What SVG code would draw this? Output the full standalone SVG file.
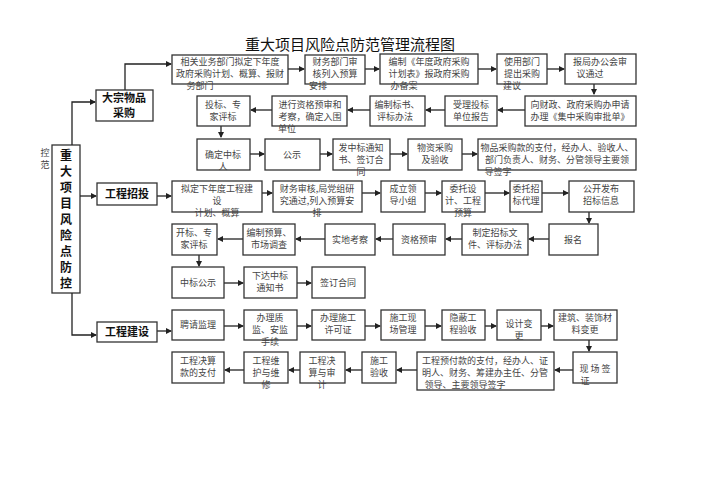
<svg xmlns="http://www.w3.org/2000/svg" width="707" height="500" viewBox="0 0 707 500">
<style>
.b{fill:#fff;stroke:#333;stroke-width:1.3}
.t{font-family:"Noto Sans CJK SC",sans-serif;font-size:9px;fill:#444;text-anchor:middle}
.h{font-family:"Noto Sans CJK SC",sans-serif;font-size:11px;font-weight:bold;fill:#111;text-anchor:middle}
.v{font-family:"Noto Sans CJK SC",sans-serif;font-size:12px;font-weight:bold;fill:#111;text-anchor:middle}
.c line,.c polyline{stroke:#222;stroke-width:1.3;fill:none;marker-end:url(#a)}
</style>
<defs><marker id="a" markerWidth="6" markerHeight="6" refX="5" refY="3" orient="auto" markerUnits="userSpaceOnUse"><path d="M0,0L6,3L0,6z" fill="#222"/></marker></defs>
<rect width="707" height="500" fill="#fff"/>
<text x="350" y="50" font-family="Noto Sans CJK SC,sans-serif" font-size="15" text-anchor="middle" fill="#111">重大项目风险点防范管理流程图</text>
<g id="main"><rect class="b" x="52" y="145" width="28" height="148"/>
<text class="v" x="66" y="160">重</text><text class="v" x="66" y="176">大</text><text class="v" x="66" y="192">项</text><text class="v" x="66" y="208">目</text><text class="v" x="66" y="224">风</text><text class="v" x="66" y="240">险</text><text class="v" x="66" y="256">点</text><text class="v" x="66" y="272">防</text><text class="v" x="66" y="288">控</text>
<text class="t" x="45" y="156" font-size="11">控</text><text class="t" x="45" y="168" font-size="11">范</text></g>
<g class="c" id="connectors">
<polyline points="72,145 72,102 95,102"/><polyline points="125,90 125,64 171,64"/>
<line x1="80" y1="196" x2="96" y2="196"/><polyline points="72,293 72,335 96,335"/>
<line x1="157" y1="196" x2="171" y2="196"/><line x1="157" y1="331" x2="171" y2="331"/>
<line x1="288" y1="69" x2="304" y2="69"/><line x1="365" y1="69" x2="379" y2="69"/><line x1="478" y1="69" x2="496" y2="69"/><line x1="547" y1="69" x2="564" y2="69"/>
<line x1="594" y1="84" x2="594" y2="94"/>
<line x1="525" y1="110" x2="498" y2="110"/><line x1="445" y1="110" x2="426" y2="110"/><line x1="370" y1="110" x2="348" y2="110"/><line x1="272" y1="110" x2="251" y2="110"/>
<line x1="221" y1="126" x2="221" y2="137"/>
<line x1="250" y1="154" x2="264" y2="154"/><line x1="320" y1="154" x2="332" y2="154"/><line x1="390" y1="154" x2="407" y2="154"/><line x1="462" y1="154" x2="477" y2="154"/>
<line x1="262" y1="193" x2="272" y2="193"/><line x1="362" y1="193" x2="380" y2="193"/><line x1="425" y1="193" x2="441" y2="193"/><line x1="485" y1="193" x2="509" y2="193"/><line x1="542" y1="193" x2="568" y2="193"/>
<line x1="589" y1="212" x2="589" y2="223"/>
<line x1="549" y1="239" x2="529" y2="239"/><line x1="462" y1="239" x2="446" y2="239"/><line x1="393" y1="239" x2="376" y2="239"/><line x1="325" y1="239" x2="296" y2="239"/><line x1="243" y1="239" x2="218" y2="239"/>
<line x1="199" y1="255" x2="199" y2="266"/>
<line x1="224" y1="283" x2="243" y2="283"/><line x1="297" y1="283" x2="311" y2="283"/>
<line x1="224" y1="326" x2="243" y2="326"/><line x1="297" y1="326" x2="311" y2="326"/><line x1="365" y1="326" x2="380" y2="326"/><line x1="425" y1="326" x2="441" y2="326"/><line x1="485" y1="326" x2="496" y2="326"/><line x1="541" y1="326" x2="553" y2="326"/>
<line x1="589" y1="340" x2="589" y2="351"/>
<line x1="573" y1="370" x2="555" y2="370"/><line x1="417" y1="370" x2="397" y2="370"/><line x1="362" y1="370" x2="346" y2="370"/><line x1="300" y1="370" x2="289" y2="370"/><line x1="244" y1="370" x2="225" y2="370"/>
</g>
<g id="n_dz"><rect class="b" x="96" y="90" width="57" height="31"/><text class="h" x="124" y="102" font-size="10">大宗物品</text><text class="h" x="124" y="117" font-size="10">采购</text></g>
<g id="n_zb"><rect class="b" x="97" y="183" width="60" height="22"/><text class="h" x="127" y="198">工程招投</text></g>
<g id="n_js"><rect class="b" x="97" y="322" width="60" height="20"/><text class="h" x="127" y="336">工程建设</text></g>
<g id="r1a"><rect class="b" x="172" y="55" width="116" height="29"/><text class="t" x="230" y="65">相关业务部门拟定下年度</text><text class="t" x="230" y="77">政府采购计划、概算、报财</text><text class="t" x="200" y="89">务部门</text></g>
<g id="r1b"><rect class="b" x="305" y="55" width="60" height="29"/><text class="t" x="335" y="65">财务部门审</text><text class="t" x="335" y="77">核列入预算</text><text class="t" x="318" y="89">安排</text></g>
<g id="r1c"><rect class="b" x="380" y="54" width="98" height="30"/><text class="t" x="429" y="65">编制《年度政府采购</text><text class="t" x="429" y="77">计划表》报政府采购</text><text class="t" x="404" y="89">办备案</text></g>
<g id="r1d"><rect class="b" x="497" y="54" width="50" height="30"/><text class="t" x="522" y="65">使用部门</text><text class="t" x="522" y="77">提出采购</text><text class="t" x="512" y="89">建议</text></g>
<g id="r1e"><rect class="b" x="565" y="54" width="71" height="30"/><text class="t" x="600" y="65">报局办公会审</text><text class="t" x="590" y="77">议通过</text></g>
<g id="r2a"><rect class="b" x="197" y="96" width="53" height="30"/><text class="t" x="223" y="108">投标、专</text><text class="t" x="223" y="120">家评标</text></g>
<g id="r2b"><rect class="b" x="272" y="96" width="75" height="30"/><text class="t" x="310" y="108">进行资格预审和</text><text class="t" x="310" y="120">考察，确定入围</text><text class="t" x="287" y="132">单位</text></g>
<g id="r2c"><rect class="b" x="370" y="96" width="55" height="30"/><text class="t" x="397" y="108">编制标书、</text><text class="t" x="395" y="120">评标办法</text></g>
<g id="r2d"><rect class="b" x="445" y="96" width="52" height="30"/><text class="t" x="471" y="108">受理投标</text><text class="t" x="471" y="120">单位报告</text></g>
<g id="r2e"><rect class="b" x="525" y="96" width="111" height="30"/><text class="t" x="580" y="108">向财政、政府采购办申请</text><text class="t" x="580" y="120">办理《集中采购审批单》</text></g>
<g id="r3a"><rect class="b" x="197" y="139" width="53" height="31"/><text class="t" x="223" y="158">确定中标</text><text class="t" x="223" y="170">人</text></g>
<g id="r3b"><rect class="b" x="265" y="139" width="55" height="31"/><text class="t" x="292" y="158">公示</text></g>
<g id="r3c"><rect class="b" x="333" y="139" width="57" height="31"/><text class="t" x="361" y="151">发中标通知</text><text class="t" x="361" y="163">书、签订合</text><text class="t" x="361" y="175">同</text></g>
<g id="r3d"><rect class="b" x="408" y="139" width="54" height="31"/><text class="t" x="435" y="151">物资采购</text><text class="t" x="435" y="163">及验收</text></g>
<g id="r3e"><rect class="b" x="478" y="139" width="158" height="31"/><text class="t" x="557" y="151">物品采购款的支付，经办人、验收人、</text><text class="t" x="557" y="163">部门负责人、财务、分管领导主要领</text><text class="t" x="498" y="175">导签字</text></g>
<g id="r4a"><rect class="b" x="172" y="181" width="90" height="31"/><text class="t" x="217" y="192">拟定下年度工程建</text><text class="t" x="217" y="204">设</text><text class="t" x="217" y="216">计划、概算</text></g>
<g id="r4b"><rect class="b" x="273" y="181" width="89" height="31"/><text class="t" x="317" y="192">财务审核,局党组研</text><text class="t" x="317" y="204">究通过,列入预算安</text><text class="t" x="317" y="216">排</text></g>
<g id="r4c"><rect class="b" x="381" y="181" width="44" height="31"/><text class="t" x="403" y="192">成立领</text><text class="t" x="403" y="204">导小组</text></g>
<g id="r4d"><rect class="b" x="442" y="181" width="43" height="31"/><text class="t" x="463" y="192">委托设</text><text class="t" x="463" y="204">计、工程</text><text class="t" x="463" y="216">预算</text></g>
<g id="r4e"><rect class="b" x="510" y="181" width="32" height="31"/><text class="t" x="526" y="192">委托招</text><text class="t" x="526" y="204">标代理</text></g>
<g id="r4f"><rect class="b" x="569" y="181" width="65" height="31"/><text class="t" x="601" y="192">公开发布</text><text class="t" x="601" y="204">招标信息</text></g>
<g id="r5a"><rect class="b" x="172" y="224" width="45" height="31"/><text class="t" x="194" y="236">开标、专</text><text class="t" x="194" y="248">家评标</text></g>
<g id="r5b"><rect class="b" x="243" y="224" width="52" height="31"/><text class="t" x="269" y="236">编制预算、</text><text class="t" x="269" y="248">市场调查</text></g>
<g id="r5c"><rect class="b" x="325" y="224" width="50" height="31"/><text class="t" x="350" y="243">实地考察</text></g>
<g id="r5d"><rect class="b" x="393" y="224" width="52" height="31"/><text class="t" x="419" y="243">资格预审</text></g>
<g id="r5e"><rect class="b" x="462" y="224" width="66" height="31"/><text class="t" x="495" y="236">制定招标文</text><text class="t" x="495" y="248">件、评标办法</text></g>
<g id="r5f"><rect class="b" x="549" y="224" width="49" height="31"/><text class="t" x="573" y="243">报名</text></g>
<g id="r6a"><rect class="b" x="172" y="267" width="52" height="31"/><text class="t" x="198" y="286">中标公示</text></g>
<g id="r6b"><rect class="b" x="244" y="267" width="53" height="31"/><text class="t" x="270" y="279">下达中标</text><text class="t" x="270" y="291">通知书</text></g>
<g id="r6c"><rect class="b" x="312" y="267" width="53" height="31"/><text class="t" x="338" y="286">签订合同</text></g>
<g id="r7a"><rect class="b" x="172" y="310" width="52" height="30"/><text class="t" x="198" y="328">聘请监理</text></g>
<g id="r7b"><rect class="b" x="244" y="310" width="53" height="30"/><text class="t" x="270" y="321">办理质</text><text class="t" x="270" y="333">监、安监</text><text class="t" x="270" y="345">手续</text></g>
<g id="r7c"><rect class="b" x="312" y="310" width="53" height="30"/><text class="t" x="338" y="321">办理施工</text><text class="t" x="338" y="333">许可证</text></g>
<g id="r7d"><rect class="b" x="381" y="310" width="44" height="30"/><text class="t" x="403" y="321">施工现</text><text class="t" x="403" y="333">场管理</text></g>
<g id="r7e"><rect class="b" x="442" y="310" width="43" height="30"/><text class="t" x="463" y="321">隐蔽工</text><text class="t" x="463" y="333">程验收</text></g>
<g id="r7f"><rect class="b" x="497" y="310" width="44" height="30"/><text class="t" x="519" y="327">设计变</text><text class="t" x="519" y="339">更</text></g>
<g id="r7g"><rect class="b" x="554" y="310" width="63" height="30"/><text class="t" x="585" y="321">建筑、装饰材</text><text class="t" x="585" y="333">料变更</text></g>
<g id="r8a"><rect class="b" x="172" y="352" width="52" height="31"/><text class="t" x="198" y="364">工程决算</text><text class="t" x="198" y="376">款的支付</text></g>
<g id="r8b"><rect class="b" x="244" y="352" width="44" height="31"/><text class="t" x="266" y="364">工程维</text><text class="t" x="266" y="376">护与维</text><text class="t" x="266" y="388">修</text></g>
<g id="r8c"><rect class="b" x="300" y="352" width="45" height="31"/><text class="t" x="322" y="364">工程决</text><text class="t" x="322" y="376">算与审</text><text class="t" x="322" y="388">计</text></g>
<g id="r8d"><rect class="b" x="362" y="352" width="34" height="31"/><text class="t" x="379" y="364">施工</text><text class="t" x="379" y="376">验收</text></g>
<g id="r8e"><rect class="b" x="417" y="352" width="137" height="38"/><text class="t" x="485" y="364">工程预付款的支付，经办人、证</text><text class="t" x="485" y="376">明人、财务、筹建办主任、分管</text><text class="t" x="465" y="388">领导、主要领导签字</text></g>
<g id="r8f"><rect class="b" x="573" y="352" width="44" height="31"/><text class="t" x="595" y="372">现 场 签</text><text class="t" x="585" y="384">证</text></g>
</svg>
